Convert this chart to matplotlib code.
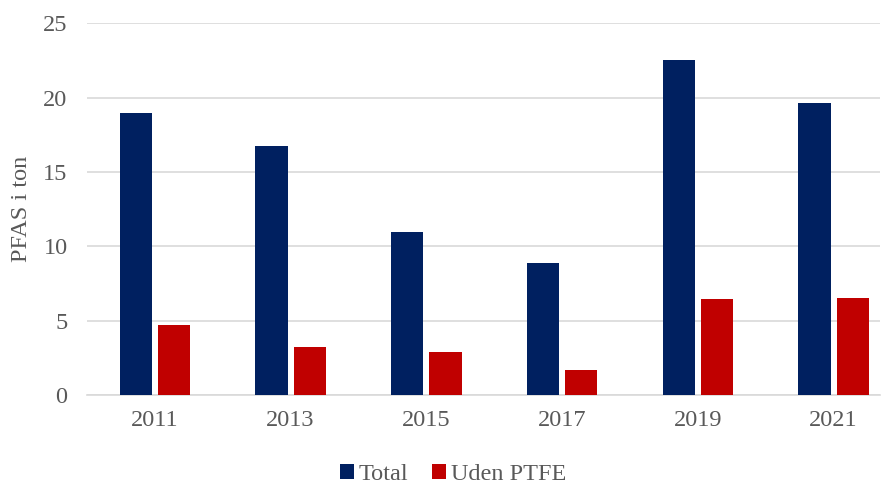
import matplotlib

matplotlib.use("Agg")
import matplotlib.pyplot as plt
import numpy as np

years = ["2011", "2013", "2015", "2017", "2019", "2021"]
total = [18.95, 16.73, 10.95, 8.87, 22.5, 19.62]
uden_ptfe = [4.7, 3.23, 2.89, 1.68, 6.45, 6.52]

NAVY = "#002060"
RED = "#C00000"
GRAY_TEXT = "#595959"
GRID = "#D9D9D9"

plt.rcParams["font.family"] = ["Liberation Serif", "DejaVu Serif"]

fig = plt.figure(figsize=(8.94, 4.84), dpi=100)
ax = fig.add_axes([0.0973, 0.184, 0.8867, 0.768])

x = np.arange(len(years))
width = 0.238
offset = 0.141
ax.bar(x - offset, total, width, color=NAVY, label="Total", zorder=3)
ax.bar(x + offset, uden_ptfe, width, color=RED, label="Uden PTFE", zorder=3)

ax.set_xlim(-0.5, 5.34)
ax.set_ylim(0, 25)
ax.set_yticks(range(0, 26, 5))
ax.set_xticks(x)
ax.set_xticklabels(years)
ax.yaxis.grid(True, color=GRID, linewidth=1.2, zorder=0)
for side in ("top", "right", "left"):
    ax.spines[side].set_visible(False)
ax.spines["bottom"].set_color(GRID)
ax.spines["bottom"].set_linewidth(1.2)
ax.tick_params(axis="both", length=0, labelsize=17.5, labelcolor=GRAY_TEXT)
ax.tick_params(axis="x", pad=11)
ax.tick_params(axis="y", pad=14)
ax.set_ylabel("PFAS i ton", fontsize=17.5, color=GRAY_TEXT, labelpad=8)

ax.legend(loc="upper center", bbox_to_anchor=(0.462, -0.147), ncol=2, frameon=False,
          fontsize=17.5, labelcolor=GRAY_TEXT, handlelength=0.55, handleheight=0.55,
          handletextpad=0.2, columnspacing=1.0, borderaxespad=0.2)

fig.savefig("out.png", dpi=100)
